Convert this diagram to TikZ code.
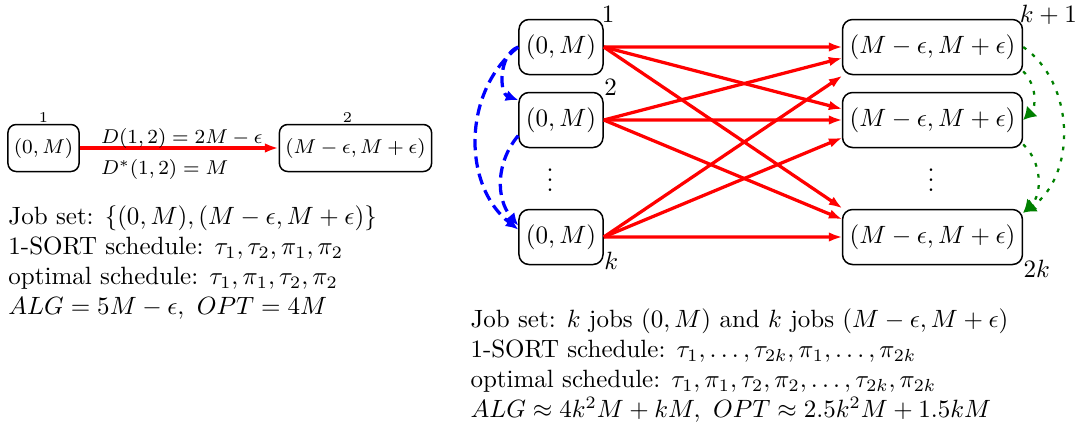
\documentclass[tikz,border=0pt]{standalone}
\usetikzlibrary{arrows.meta, calc}

\begin{document}
\begin{tikzpicture}[
    x=0.4pt, y=-0.4pt,
    job/.style={rectangle, rounded corners=4pt, draw=black, line width=0.6pt,
        inner xsep=2.8pt, minimum height=22pt},
    sjob/.style={job, rounded corners=3.3pt, inner xsep=2.4pt,
        minimum height=18.8pt, font=\fontsize{8.3}{10}\selectfont},
    idx/.style={anchor=base west, inner sep=0pt, yshift=-1.5pt},
    sidx/.style={inner sep=0.5pt, font=\fontsize{6.2}{7}\selectfont},
    elab/.style={inner sep=1.5pt, font=\fontsize{8.3}{10}\selectfont},
    rd/.style={-{Latex[length=5.5pt,width=3.8pt]}, draw=red, line width=1.3pt},
    bl/.style={-{Latex[length=5pt,width=4.5pt]}, draw=blue, line width=1.3pt,
        dash pattern=on 4.5pt off 2.5pt},
    gr/.style={-{Latex[length=5pt,width=6pt]}, draw=green!50!black,
        line width=0.9pt, dash pattern=on 1.5pt off 3pt},
    txt/.style={anchor=north west, align=left, inner sep=0pt},
]
\useasboundingbox (0,0) rectangle (1075,429);

% ===== LEFT: two jobs =====
\node[sjob, label={[sidx]above:$1$}] (s1) at (43.5,148) {$(0,M)$};
\node[sjob, label={[sidx, xshift=-3.2pt]above:$2$}] (s2) at (355.5,148)
    {$(M-\epsilon,M+\epsilon)$};

\draw[rd] (s1) -- (s2)
    node[elab, pos=0.08, anchor=south west, yshift=-2.3pt] {$D(1,2)=2M-\epsilon$}
    node[elab, pos=0.08, anchor=north west, yshift=-2.5pt] {$D^{*}(1,2)=M$};

\node[txt] (stxt) at (8,205) {Job set: $\{(0,M),(M-\epsilon,M+\epsilon)\}$\\
    1-SORT schedule: $\tau_1,\tau_2,\pi_1,\pi_2$\\
    optimal schedule: $\tau_1,\pi_1,\tau_2,\pi_2$\\
    $ALG=5M-\epsilon,\ OPT=4M$};

% ===== RIGHT: k jobs of each kind =====
\node[job, label={[idx, xshift=-1pt]north east:$1$}] (l1) at (561,47) {$(0,M)$};
\node[job, label={[idx]north east:$2$}] (l2) at (561,120) {$(0,M)$};
\node[job, label={[idx]south east:$k$}] (lk) at (561,237) {$(0,M)$};
\node (ldots) at (550,173) {$\vdots$};

\node[job, label={[idx, xshift=-1.5pt]north east:$k+1$}] (r1) at (932.5,47)
    {$(M-\epsilon,M+\epsilon)$};
\node[job] (r2) at (932.5,120) {$(M-\epsilon,M+\epsilon)$};
\node[job, label={[idx, yshift=-3.5pt]south east:$2k$}] (rk) at (932.5,237)
    {$(M-\epsilon,M+\epsilon)$};
\node (rdots) at (931,173) {$\vdots$};

% every (0,M) job to every (M-eps,M+eps) job
\foreach \i in {1,2,k}
    \foreach \j in {1,2,k}
        \draw[rd] (l\i.east) -- ($(l\i.east)!0.85!(r\j.west)+(36.5,0)$);

\draw[bl] (l1.west) to[bend right=70] (l2.155);
\draw[bl] (l1.west) to[bend right=52] (lk.170);
\draw[bl] (l2.200) to[bend right=40] (lk.165);

\draw[gr] (r1.-15) to[bend left=45] (r2.east);
\draw[gr] (r1.east) to[bend left=55] (rk.15);
\draw[gr] (r2.-15) to[bend left=46] (rk.15);

\node[txt] (ktxt) at (470,308) {Job set: $k$ jobs $(0,M)$ and $k$ jobs $(M-\epsilon,M+\epsilon)$\\
    1-SORT schedule: $\tau_1,\ldots,\tau_{2k},\pi_1,\ldots,\pi_{2k}$\\
    optimal schedule: $\tau_1,\pi_1,\tau_2,\pi_2,\ldots,\tau_{2k},\pi_{2k}$\\
    $ALG\approx 4k^2M+kM,\ OPT\approx 2.5k^2M+1.5kM$};

\end{tikzpicture}
\end{document}
